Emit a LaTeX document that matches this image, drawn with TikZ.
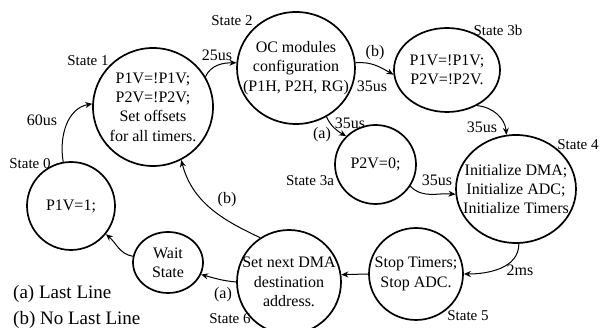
\documentclass[tikz,border=0pt]{standalone}
\usepackage{fontspec}
\setmainfont{Liberation Serif}
\usetikzlibrary{shapes.geometric,arrows.meta}
\begin{document}
\begin{tikzpicture}[x=1pt,y=1pt,
  st/.style={draw, ellipse, line width=1.7pt, inner sep=0pt},
  txt/.style={align=center, inner sep=0pt, font=\fontsize{16}{19.3}\selectfont},
  lbl/.style={font=\fontsize{15}{18}\selectfont, inner sep=0pt},
  el/.style={font=\fontsize{16}{18}\selectfont, inner sep=0pt},
  leg/.style={font=\fontsize{19}{22}\selectfont, inner sep=0pt, anchor=west},
  arr/.style={-{Stealth[length=7pt,width=6pt]}, line width=1pt}]
\useasboundingbox (0,0) rectangle (600,328);
% states
\node[st, minimum width=88, minimum height=88, label={[txt]center:{P1V=1;}}] (S0) at (71,122) {};
\node[st, minimum width=120, minimum height=118, label={[txt]center:{P1V=!P1V;\\P2V=!P2V;\\Set offsets\\for all timers.}}] (S1) at (153,221) {};
\node[st, minimum width=118, minimum height=112, label={[txt]center:{OC modules\\configuration\\(P1H, P2H, RG)}}] (S2) at (296,260) {};
\node[st, minimum width=106, minimum height=84, label={[txt]center:{P1V=!P1V;\\P2V=!P2V.}}] (S3b) at (447,258) {};
\node[st, minimum width=81, minimum height=79, label={[txt]center:{P2V=0;}}] (S3a) at (375.5,163.5) {};
\node[st, minimum width=120, minimum height=108, label={[txt]center:{Initialize DMA;\\Initialize ADC;\\Initialize Timers}}] (S4) at (516,139) {};
\node[st, minimum width=94, minimum height=92, label={[txt]center:{Stop Timers;\\Stop ADC.}}] (S5) at (416,54) {};
\node[st, minimum width=104, minimum height=104, label={[txt]center:{Set next DMA\\destination\\address.}}] (S6) at (289,46) {};
\node[st, minimum width=70, minimum height=61, label={[txt]center:{Wait\\State}}] (W) at (168,65.5) {};
% state labels
\node[lbl] (L0) at (30,164) {State 0};
\node[lbl] (L1) at (88,267) {State 1};
\node[lbl] (L2) at (232,307) {State 2};
\node[lbl] (L3b) at (498,298) {State 3b};
\node[lbl] (L3a) at (310,147) {State 3a};
\node[lbl] (L4) at (578,183) {State 4};
\node[lbl] (L5) at (468,12) {State 5};
\node[lbl] (L6) at (230,9) {State 6};
% connectors
\draw[arr] (S0.100) to[out=100,in=190] (S1.177);
\draw[arr] (S1.30) to[out=65,in=180] (S2.175);
\draw[arr] (S2.5) to[out=5,in=150] (S3b.185);
\draw[arr] (S2.-58) to[out=-65,in=150] (S3a.136);
\draw[arr] (S3b.-50) to[out=-5,in=95] (S4.100);
\draw[arr] (S3a.-32) to[out=-45,in=175] (S4.185);
\draw[arr] (S4.-87) to[out=-90,in=0] (S5.0);
\draw[arr] (S5.180) -- (S6.8);
\draw[arr] (S6.180) to[out=175,in=-15] (W.-20);
\draw[arr] (S6.123) to[out=155,in=-75] (S1.-62);
\draw[arr] (W.170) to[out=170,in=-40] (S0.-39);
% edge labels
\node[el] (e1) at (42,208) {60us};
\node[el] (e2) at (217,273) {25us};
\node[el] (e3) at (375,275) {(b)};
\node[el] (e4) at (372,242) {35us};
\node[el] (e5) at (350,205) {35us};
\node[el] (e6) at (322,193) {(a)};
\node[el] (e7) at (482,201) {35us};
\node[el] (e8) at (437,148) {35us};
\node[el] (e9) at (520,58) {2ms};
\node[el] (e10) at (223,33) {(a)};
\node[el] (e11) at (227,128) {(b)};
% legend
\node[leg] (lega) at (13,34) {(a) Last Line};
\node[leg] (legb) at (13,8) {(b) No Last Line};
\end{tikzpicture}
\end{document}
